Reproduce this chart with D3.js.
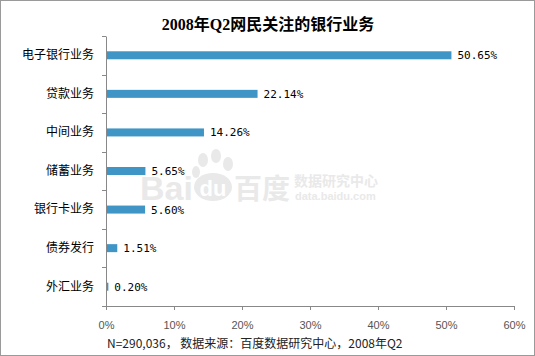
<!DOCTYPE html>
<html><head><meta charset="utf-8">
<script src="https://cdn.jsdelivr.net/npm/d3@7"></script>
<style>body{margin:0;background:#fff}svg{display:block}</style>
</head><body>
<script>
const categories = ["电子银行业务","贷款业务","中间业务","储蓄业务","银行卡业务","债券发行","外汇业务"];
const values = [50.65, 22.14, 14.26, 5.65, 5.60, 1.51, 0.20];
const valueLabels = ["50.65%","22.14%","14.26%","5.65%","5.60%","1.51%","0.20%"];
const xTicks = [0,10,20,30,40,50,60];
const title = "2008年Q2网民关注的银行业务";
const note = "N=290,036， 数据来源：百度数据研究中心，2008年Q2";

const W=535,H=356;
const svg=d3.select("body").append("svg").attr("width",W).attr("height",H);
svg.append("rect").attr("x",0.5).attr("y",0.5).attr("width",W-1).attr("height",H-1).attr("fill","#fff").attr("stroke","#9a9a9a");

// watermark
const wmc="#e9e9e9";
const wm=svg.append("g").attr("fill",wmc);
wm.append("text").attr("x",140).attr("y",200).attr("font-family","Arial, Liberation Sans, sans-serif").attr("font-size",34).attr("font-weight","bold").text("Bai");
wm.append("ellipse").attr("cx",213).attr("cy",187).attr("rx",19).attr("ry",14);
wm.append("ellipse").attr("cx",203).attr("cy",160).attr("rx",5).attr("ry",7);
wm.append("ellipse").attr("cx",216).attr("cy",156).attr("rx",5).attr("ry",7);
wm.append("ellipse").attr("cx",228).attr("cy",164).attr("rx",5).attr("ry",7);
wm.append("ellipse").attr("cx",196).attr("cy",172).attr("rx",4).attr("ry",6);
wm.append("text").attr("x",213).attr("y",196).attr("text-anchor","middle").attr("font-family","Arial, Liberation Sans, sans-serif").attr("font-size",22).attr("font-weight","bold").attr("fill","#fff").text("du");
wm.append("text").attr("x",234).attr("y",199).attr("font-family","Noto Sans CJK SC").attr("font-size",28).attr("font-weight","bold").text("百度");
wm.append("text").attr("x",294).attr("y",186).attr("font-family","Noto Sans CJK SC").attr("font-size",14).attr("font-weight","bold").text("数据研究中心");
wm.append("text").attr("x",295).attr("y",200).attr("font-family","Arial, Liberation Sans, sans-serif").attr("font-size",11).attr("font-weight","bold").text("data.baidu.com");

const x=d3.scaleLinear().domain([0,60]).range([106,514]);
const y=d3.scaleBand().domain(categories).range([36,306]);

svg.append("text").attr("x",268).attr("y",30).attr("text-anchor","middle")
  .attr("font-family","Liberation Serif, Noto Sans CJK SC").attr("font-weight","bold").attr("font-size",16).text(title);

const ya=svg.append("g").attr("transform","translate(106,0)")
  .call(d3.axisLeft(y).tickSize(0).tickPadding(12));
ya.select(".domain").attr("stroke","#888");
ya.selectAll("text").attr("font-family","Noto Sans CJK SC").attr("font-size",12).attr("fill","#000");
svg.append("g").selectAll("line").data(categories.concat(["_end"])).join("line")
  .attr("x1",102).attr("x2",106)
  .attr("y1",(d,i)=>Math.round(36+i*y.step())+0.5).attr("y2",(d,i)=>Math.round(36+i*y.step())+0.5)
  .attr("stroke","#888");

const xa=svg.append("g").attr("transform","translate(0,306)")
  .call(d3.axisBottom(x).tickValues(xTicks).tickSize(4).tickSizeOuter(0).tickPadding(11).tickFormat(d=>d+"%"));
xa.select(".domain").attr("stroke","#888");
xa.selectAll("line").attr("stroke","#888");
xa.selectAll("text").attr("font-family","Liberation Sans, Arial, sans-serif").attr("font-size",11).attr("fill","#555");

const bh=8;
svg.append("g").selectAll("rect").data(values).join("rect")
  .attr("x",x(0)+1).attr("y",(d,i)=>y(categories[i])+y.bandwidth()/2-bh/2)
  .attr("width",d=>x(d)-x(0)).attr("height",bh).attr("fill","#3f95c5");

svg.append("g").selectAll("text").data(values).join("text")
  .attr("x",d=>x(d)+7).attr("y",(d,i)=>y(categories[i])+y.bandwidth()/2+4)
  .attr("font-family","DejaVu Sans Mono, Liberation Mono, monospace").attr("font-size",11).attr("fill","#000")
  .text((d,i)=>valueLabels[i]);

svg.append("text").attr("x",107).attr("y",348).attr("font-family","Noto Sans CJK SC").attr("font-size",12).attr("fill","#222").text(note);
</script>
</body></html>
